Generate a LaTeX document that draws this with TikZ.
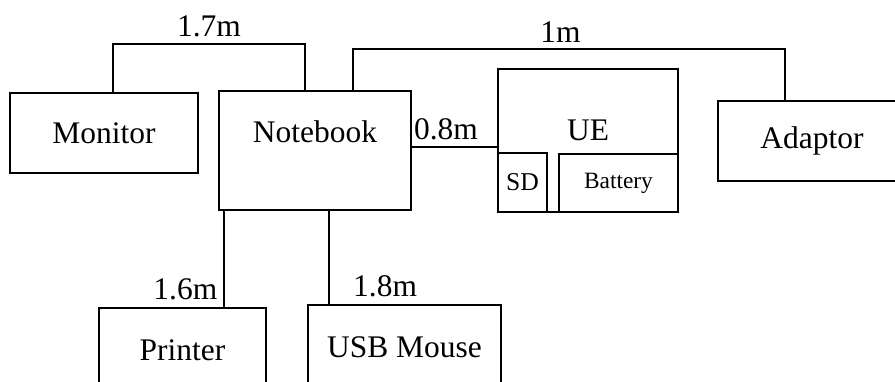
\documentclass[tikz,border=0pt]{standalone}
\usepackage{fontspec}
\setmainfont{Liberation Serif}
\usepackage{tikz}

\tikzset{
        box/.style={draw, line width=1pt, inner sep=0pt},
        txt/.style={font=\fontsize{17.9pt}{21pt}\selectfont},
        wire/.style={line width=1pt}
}

\begin{document}
\begin{tikzpicture}
        \useasboundingbox (0,0) rectangle (17.9,7.62);
        \clip (0,0) rectangle (17.9,7.62);          % boxes at the edges are cut
        \node[box, txt, minimum width=3.76cm, minimum height=1.6cm] (mon) at (2.08,4.96) {Monitor};
        \node[box, minimum width=3.84cm, minimum height=2.38cm] (nb) at (6.30,4.61) {};
        \node[txt] (nbtext) at (6.30,4.98) {Notebook};
        \node[box, minimum width=3.60cm, minimum height=2.86cm] (ue) at (11.76,4.81) {};
        \node[txt] (uetext) at (11.76,5.02) {UE};
        \node[box, font=\fontsize{14.6pt}{17pt}\selectfont, minimum width=0.98cm, minimum height=1.18cm] (sd) at (10.45,3.97) {SD};
        \node[box, font=\fontsize{13.3pt}{16pt}\selectfont, minimum width=2.38cm, minimum height=1.16cm] (bat) at (12.37,3.96) {Battery};
        \node[box, txt, minimum width=3.76cm, minimum height=1.6cm] (ada) at (16.24,4.80) {Adaptor};
        \node[box, txt, minimum width=3.34cm, minimum height=1.68cm] (prn) at (3.65,0.62) {Printer};
        \node[box, txt, minimum width=3.86cm, minimum height=1.68cm] (usb) at (8.09,0.68) {USB Mouse};

        % cables with their lengths
        \draw [wire] ([xshift=1.8mm]mon.north) -- ++(0,0.96)
                -| node[txt, pos=0.25, above] {1.7m} ([xshift=-2mm]nb.north);
        \draw [wire] ([xshift=7.6mm]nb.north) -- ++(0,0.82)
                -| node[txt, pos=0.24, above] {1m} ([xshift=-5.4mm]ada.north);
        \draw [wire] ([yshift=0.7mm]nb.east) -- node[txt, pos=0.4, above] {0.8m} ([yshift=0.7mm]nb.east -| ue.west);
        \draw [wire] ([xshift=-18.2mm]nb.south) -- node[txt, pos=1, above left] {1.6m} ([xshift=-18.2mm]nb.south |- prn.north);
        \draw [wire] ([xshift=2.8mm]nb.south) -- node[txt, pos=1, above right, xshift=3.5mm] {1.8m} ([xshift=2.8mm]nb.south |- usb.north);
\end{tikzpicture}
\end{document}
